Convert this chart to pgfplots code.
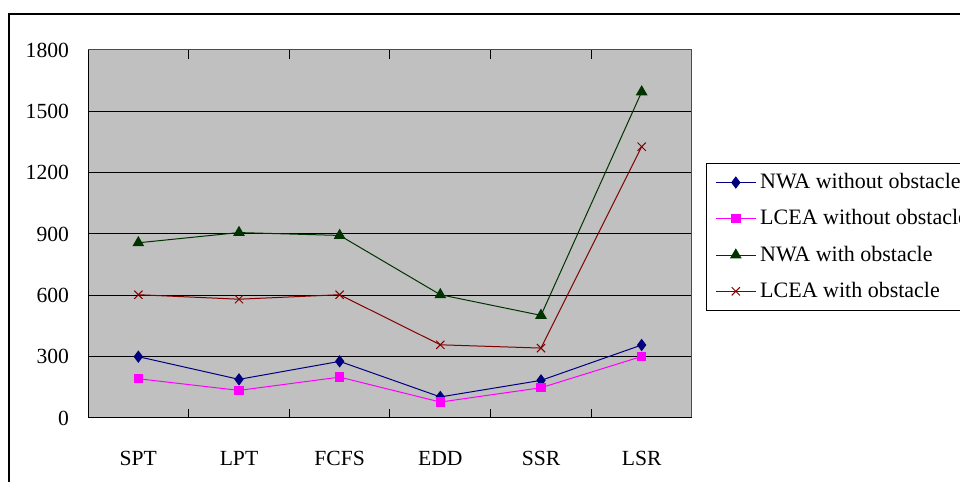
\documentclass[border=0pt]{standalone}
\usepackage{pgfplots}
\pgfplotsset{compat=1.18}
\usepackage{fontspec}
\setmainfont{Liberation Serif}
\definecolor{plotgray}{RGB}{192,192,192}
\definecolor{navyc}{RGB}{0,0,128}
\definecolor{magc}{RGB}{255,0,255}
\definecolor{dgreen}{RGB}{0,51,0}
\definecolor{dred}{RGB}{128,0,0}
\begin{document}
\begin{tikzpicture}
\useasboundingbox (0,0) rectangle (480pt,241pt);
\clip (0,0) rectangle (480pt,241pt);
\fill[white] (0,0) rectangle (480pt,241pt);
\draw[black, line width=0.7pt] (4.5pt,-5pt) rectangle (490pt,234pt);
\begin{axis}[
  at={(44pt,32pt)}, anchor=south west,
  scale only axis, width=302pt, height=184pt,
  xmin=-0.5, xmax=5.5, ymin=0, ymax=1800,
  axis background/.style={fill=plotgray},
  axis line style={gray!60!black, line width=0.5pt},
  xtick={0,1,2,3,4,5},
  xticklabels={SPT,LPT,FCFS,EDD,SSR,LSR},
  major x tick style={draw=none},
  minor xtick={0.5,1.5,2.5,3.5,4.5},
  minor tick length=4.5pt,
  minor x tick style={black, line width=0.5pt},
  ytick={0,300,...,1800},
  major tick length=3.5pt,
  ytick style={black, line width=0.5pt},
  tick align=inside,
  ymajorgrids, grid style={black, line width=0.5pt},
  tick label style={font=\fontsize{10.8}{12}\selectfont},
  /pgf/number format/assume math mode=true,
  /pgf/number format/1000 sep={},
  xticklabel style={yshift=-13pt},
  yticklabel style={xshift=-6pt},
  legend style={at={(1,1)}, anchor=north west, xshift=7pt, yshift=-56pt,
    draw=black, fill=white, font=\fontsize{11}{12}\selectfont,
    row sep=5pt, inner xsep=4.5pt, inner ysep=3pt, yshift=-0.5pt},
  legend cell align=left,
  legend image code/.code={\draw[mark repeat=2,mark phase=2] plot coordinates {(0cm,0cm)(0.35cm,0cm)(0.7cm,0cm)};},
  every axis plot/.append style={line width=0.5pt},
]
\addplot[navyc, mark=diamond*, mark size=2.7pt, mark options={fill=navyc}] coordinates {(0,300)(1,189)(2,277)(3,103)(4,184)(5,357)};
\addlegendentry{NWA without obstacle}
\addplot[magc, mark=square*, mark size=2.1pt, mark options={fill=magc}] coordinates {(0,192)(1,135)(2,200)(3,78)(4,148)(5,301)};
\addlegendentry{LCEA without obstacle}
\addplot[dgreen, mark=triangle*, mark size=2.9pt, mark options={fill=dgreen}] coordinates {(0,857)(1,907)(2,893)(3,603)(4,502)(5,1595)};
\addlegendentry{NWA with obstacle}
\addplot[dred, mark=x, mark size=2.9pt] coordinates {(0,603)(1,581)(2,603)(3,358)(4,342)(5,1327)};
\addlegendentry{LCEA with obstacle}
\draw[black, line width=0.5pt] (axis description cs:0,1) -- (axis description cs:0,0) -- (axis description cs:1,0);
\end{axis}
\end{tikzpicture}
\end{document}
